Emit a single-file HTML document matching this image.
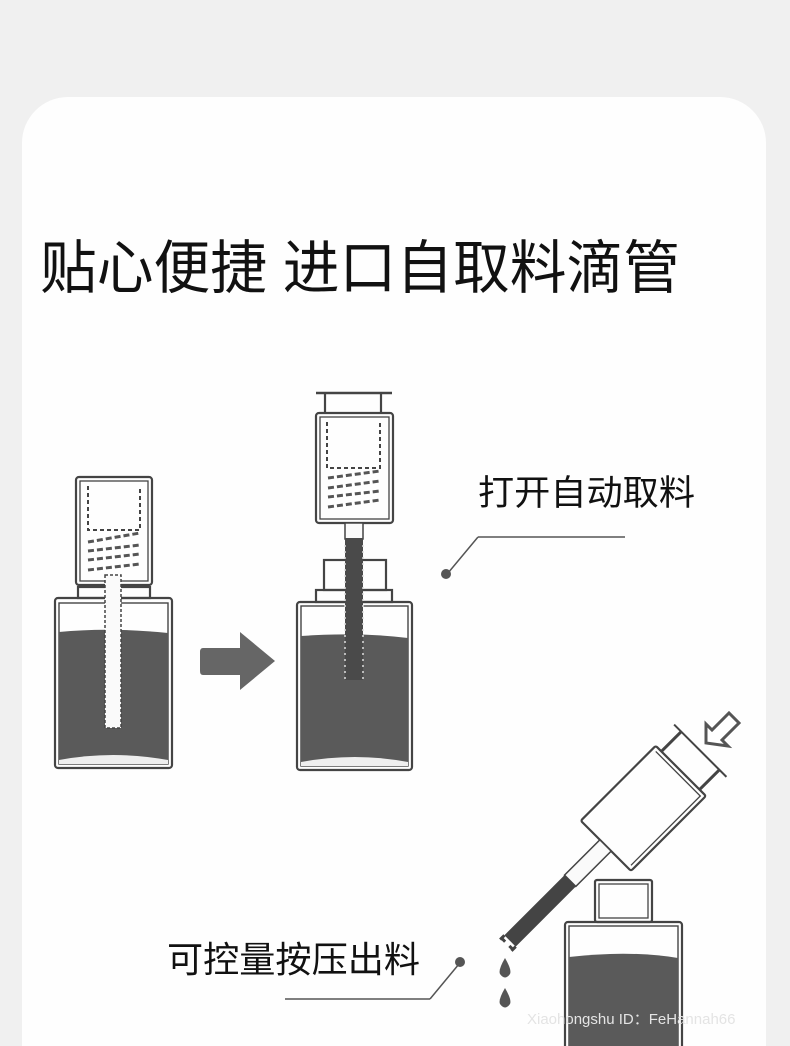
<!DOCTYPE html>
<html><head><meta charset="utf-8"><style>
html,body{margin:0;padding:0;background:#f0f0f0;}
svg{display:block;}
text{font-family:"Liberation Sans","Noto Sans CJK SC",sans-serif;fill:#111;}
</style></head><body>
<svg width="790" height="1046" viewBox="0 0 790 1046" xmlns="http://www.w3.org/2000/svg">
<rect x="0" y="0" width="790" height="1046" fill="#f0f0f0"/>
<rect x="22" y="97" width="744" height="1000" rx="46" fill="#fefefe"/>
<text x="40" y="288" font-size="58" textLength="640" lengthAdjust="spacingAndGlyphs">贴心便捷 进口自取料滴管</text>

<g fill="none" stroke="#444" stroke-width="2.2">
<!-- left bottle -->
<rect x="55" y="598" width="117" height="170" rx="3"/>
<rect x="59" y="603" width="109" height="161" stroke-width="1.4"/>
<path d="M59 632 Q110 627 168 633 L168 764 L59 764 Z" fill="#5a5a5a" stroke="none"/>
<path d="M59 760 Q113 750 168 760 L168 764 L59 764Z" fill="#eee" stroke="none"/>
<rect x="78" y="587" width="72" height="11"/>
<rect x="76" y="477" width="76" height="108" rx="3"/>
<rect x="80" y="481" width="68" height="100" stroke-width="1.3"/>
<path d="M88 486 V530 H140 V486" stroke-dasharray="4 3" stroke-width="2"/>
<g stroke-dasharray="6 3" stroke-width="3" stroke="#555">
<path d="M88 542 L140 533"/><path d="M88 551 L140 545"/><path d="M88 560 L140 554"/><path d="M88 570 L140 564"/>
</g>
<rect x="105" y="575" width="16" height="153" fill="#fafafa" stroke-dasharray="3 2" stroke-width="1.5"/>

<!-- arrow -->
<path d="M203 648 H240 V632 L275 661 L240 690 V675 H203 Q200 675 200 671 V652 Q200 648 203 648Z" fill="#666" stroke="none"/>

<!-- middle bottle -->
<rect x="297" y="602" width="115" height="168" rx="3"/>
<rect x="301" y="606" width="107" height="160" stroke-width="1.4"/>
<path d="M301 636 Q360 632 408 638 L408 766 L301 766 Z" fill="#5a5a5a" stroke="none"/>
<path d="M301 762 Q355 752 408 762 L408 766 L301 766Z" fill="#eee" stroke="none"/>
<rect x="316" y="590" width="76" height="12"/>
<rect x="324" y="560" width="62" height="30"/>
<rect x="316" y="413" width="77" height="110" rx="3"/>
<rect x="320" y="417" width="69" height="102" stroke-width="1.3"/>
<line x1="316" y1="393" x2="392" y2="393" stroke-width="2.5"/>
<line x1="325" y1="393" x2="325" y2="413"/><line x1="381" y1="393" x2="381" y2="413"/>
<path d="M327 422 V468 H380 V422" stroke-dasharray="4 3" stroke-width="2"/>
<g stroke-dasharray="6 3" stroke-width="3" stroke="#555">
<path d="M328 478 L380 471"/><path d="M328 488 L380 481"/><path d="M328 497 L380 491"/><path d="M328 507 L380 500"/>
</g>
<rect x="345" y="523" width="18" height="16" fill="#fafafa" stroke-width="1.5"/>
<rect x="345" y="538" width="18" height="142" fill="#4a4a4a" stroke="none"/>
<path d="M345 545 V680 M363 545 V680" stroke="#ddd" stroke-dasharray="2 4" stroke-width="1.5"/>

<!-- labels -->
<line x1="448" y1="573" x2="478" y2="537" stroke="#555" stroke-width="1.5"/>
<line x1="478" y1="537" x2="625" y2="537" stroke="#555" stroke-width="1.5"/>
<circle cx="446" cy="574" r="5" fill="#555" stroke="none"/>
<line x1="459" y1="964" x2="430" y2="999" stroke="#555" stroke-width="1.5"/>
<line x1="285" y1="999" x2="430" y2="999" stroke="#555" stroke-width="1.5"/>
<circle cx="460" cy="962" r="5" fill="#555" stroke="none"/>

<!-- bottom right bottle -->
<rect x="565" y="922" width="117" height="140" rx="3"/>
<rect x="569" y="926" width="109" height="140" stroke-width="1.4"/>
<path d="M569 957 Q630 950 678 958 L678 1046 L569 1046Z" fill="#5a5a5a" stroke="none"/>
<rect x="595" y="880" width="57" height="42" rx="2"/>
<rect x="599" y="884" width="49" height="34" stroke-width="1.3"/>

<!-- tilted dropper -->
<g transform="translate(643 808) rotate(45)">
<rect x="-35" y="-53" width="71" height="106" rx="2" fill="#fefefe"/>
<path d="M-31 -49 H32 V49" stroke-width="1.3"/>
<line x1="-37" y1="-81" x2="37" y2="-81" stroke-width="2"/>
<line x1="-27" y1="-81" x2="-27" y2="-53" stroke-width="3"/>
<line x1="27" y1="-81" x2="27" y2="-53" stroke-width="3"/>
<rect x="-8" y="53" width="16" height="50" fill="#fafafa" stroke-width="1.5"/>
<rect x="-8" y="103" width="16" height="85" fill="#444" stroke="none"/>
<path d="M-8 188 V194 M8 188 V194 M-8 192 H-3 M8 192 H3" stroke-width="3"/>
</g>
<!-- press arrow -->
<path d="M706 743 L706 724 L712 730 L729 713 L739 723 L722 740 L728 746 Z" fill="#fff" stroke="#555" stroke-width="3"/>
<!-- drops -->
<path d="M505 958 Q498 970 500 974 Q505 981 510 974 Q512 970 505 958Z" fill="#555" stroke="none"/>
<path d="M505 988 Q498 1000 500 1004 Q505 1011 510 1004 Q512 1000 505 988Z" fill="#555" stroke="none"/>
</g>

<text x="478" y="505" font-size="35" textLength="217" lengthAdjust="spacingAndGlyphs">打开自动取料</text>
<text x="167" y="972" font-size="36" textLength="253" lengthAdjust="spacingAndGlyphs">可控量按压出料</text>
<text x="527" y="1024" font-size="15" style="fill:#e4e4e4">Xiaohongshu ID：FeHannah66</text>
</svg>
</body></html>
